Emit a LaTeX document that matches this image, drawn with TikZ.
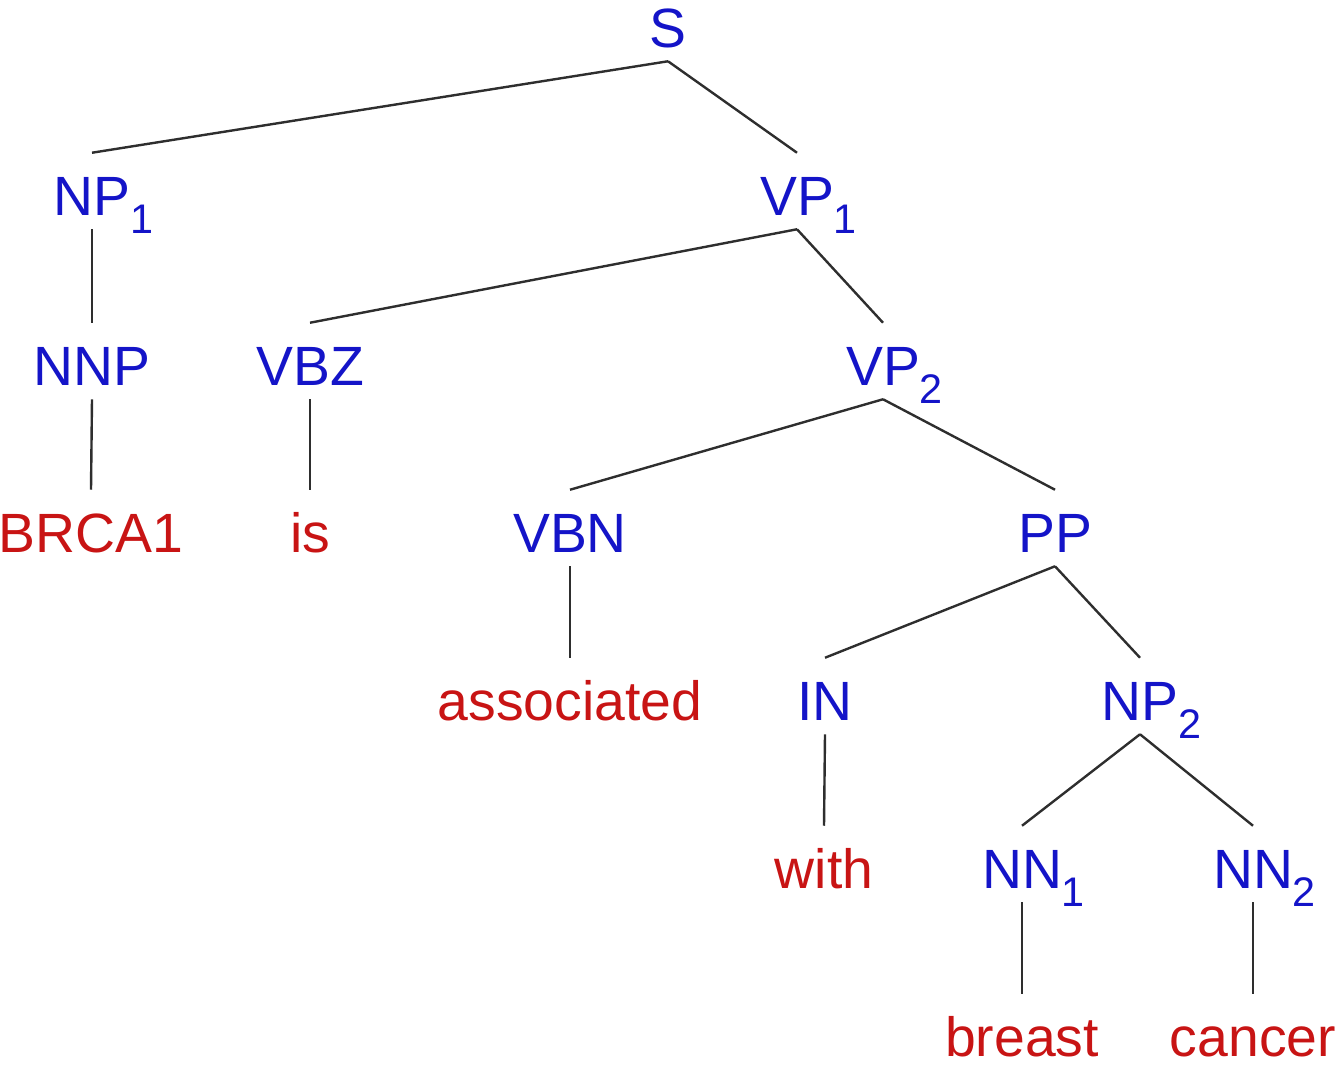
\documentclass[tikz,border=0pt]{standalone}
\usepackage{fontspec}
\setmainfont{Liberation Sans}
\definecolor{tagblue}{RGB}{20,20,200}
\definecolor{wordred}{RGB}{200,20,20}
\newcommand{\sbs}[1]{\rlap{\raisebox{-13.5pt}{\fontsize{31pt}{36pt}\selectfont #1}}}
\begin{document}
\begin{tikzpicture}[x=0.75pt,y=-0.75pt,
  lbl/.style={anchor=base,inner sep=0pt,text height=46.5pt,text depth=10.5pt,
    font=\fontsize{41.5pt}{48pt}\selectfont},
  tag/.style={lbl,text=tagblue},
  word/.style={lbl,text=wordred,text depth=0pt},
  edge/.style={line width=1.8pt,draw=black!82}]
\useasboundingbox (0,0) rectangle (1342,1064);
\node[tag] (s) at (668,47) {S};
\node[tag] (np1) at (92,215) {NP\sbs{1}};
\node[tag] (vp1) at (797,215) {VP\sbs{1}};
\node[tag] (nnp) at (92,385) {NNP};
\node[tag] (vbz) at (310,385) {VBZ};
\node[tag] (vp2) at (883,385) {VP\sbs{2}};
\node[word] (brca) at (91,552) {BRCA1};
\node[word] (is) at (310,552) {is};
\node[tag] (vbn) at (570,552) {VBN};
\node[tag] (pp) at (1055,552) {PP};
\node[word] (assoc) at (570,720) {associated};
\node[tag] (in) at (825,720) {IN};
\node[tag] (np2) at (1140,720) {NP\sbs{2}};
\node[word] (with) at (824,888) {with};
\node[tag] (nn1) at (1022,888) {NN\sbs{1}};
\node[tag] (nn2) at (1253,888) {NN\sbs{2}};
\node[word] (breast) at (1022,1056) {breast};
\node[word] (cancer) at (1253,1056) {cancer};
\foreach \p/\c in {s/np1,s/vp1,np1/nnp,nnp/brca,vp1/vbz,vp1/vp2,vbz/is,
  vp2/vbn,vp2/pp,vbn/assoc,pp/in,pp/np2,in/with,np2/nn1,np2/nn2,
  nn1/breast,nn2/cancer}
  \draw[edge] (\p.south) -- (\c.north);
\end{tikzpicture}
\end{document}
